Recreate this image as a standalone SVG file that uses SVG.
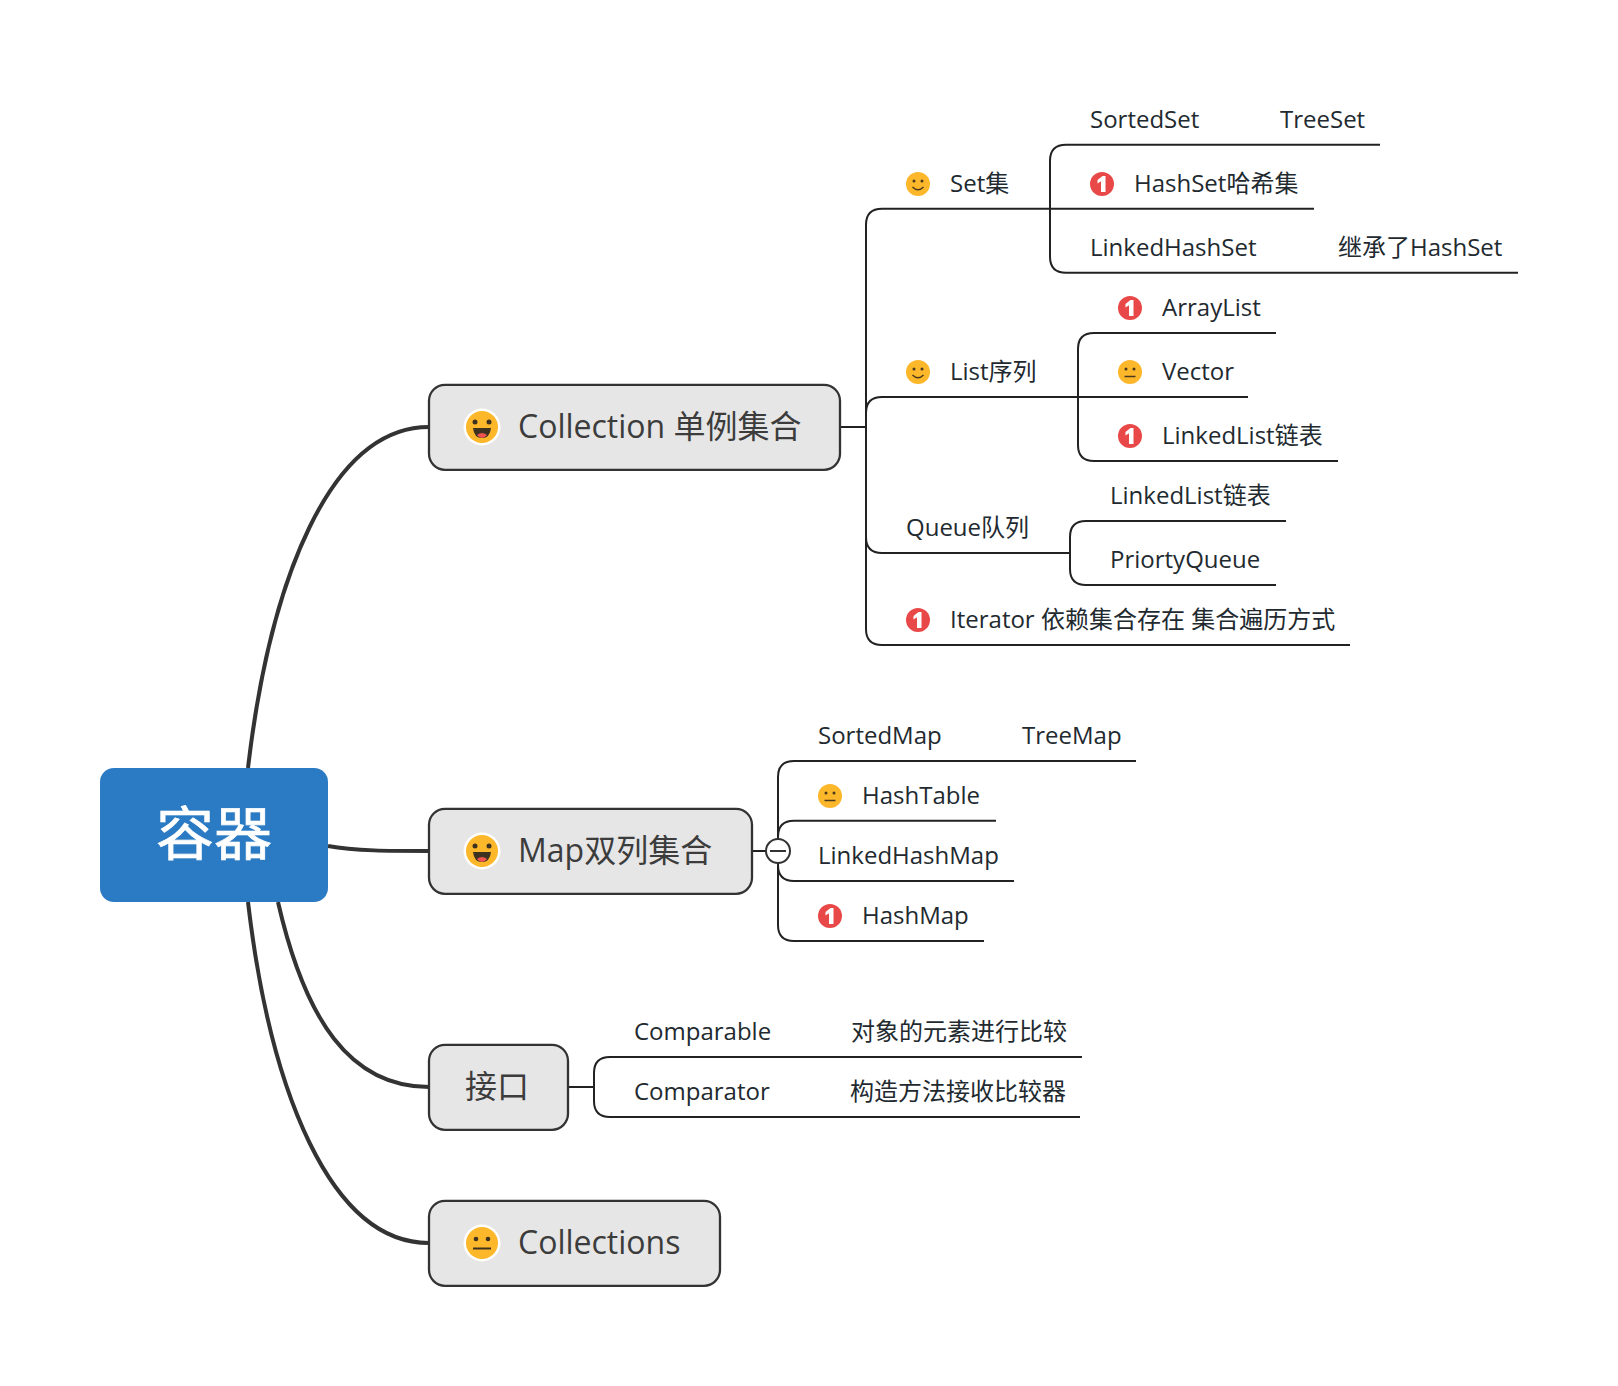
<svg xmlns="http://www.w3.org/2000/svg" xmlns:xlink="http://www.w3.org/1999/xlink" width="1618" height="1386" viewBox="0 0 1618 1386">
<style>
text{font-family:"Open Sans","Noto Sans CJK SC",sans-serif}
.t{font-size:24px;fill:#222a30}
.m{font-size:32px;fill:#3c3c3c}
.r{font-size:58px;fill:#fff;stroke:#fff;stroke-width:0.700;text-anchor:middle}
.box{fill:#e6e6e6;stroke:#333;stroke-width:2.300}
.main{fill:none;stroke:#333;stroke-width:4}
.ln{fill:none;stroke:#222;stroke-width:2}
</style>
<defs>
<g id="smile"><circle r="12" fill="#fdb72b"/><circle cx="-4" cy="-3" r="1.500" fill="#4a3a1a"/><circle cx="4" cy="-3" r="1.500" fill="#4a3a1a"/><path d="M-5.500 3Q0 8.500 5.500 3" fill="none" stroke="#4a3a1a" stroke-width="1.500"/></g>
<g id="neutral"><circle r="12" fill="#fdb72b"/><circle cx="-4" cy="-3" r="1.500" fill="#4a3a1a"/><circle cx="4" cy="-3" r="1.500" fill="#4a3a1a"/><path d="M-5.500 4.500H5.500" fill="none" stroke="#4a3a1a" stroke-width="1.500"/></g>
<g id="one"><circle r="12" fill="#e94848"/><path d="M-4.500 -4L0.500 -8H3.500V8H-1V-2.800L-4.500 -0.500Z" fill="#fff"/></g>
<g id="bigFace"><circle r="18.500" fill="#fff"/><circle r="16" fill="#fdb72b"/><circle cx="-7" cy="-5" r="2.500" fill="#3d3220"/><circle cx="7" cy="-5" r="2.500" fill="#3d3220"/><path d="M-9 1H9Q8 11 0 11Q-8 11 -9 1Z" fill="#3d3220"/><path d="M-5 8Q0 4 5 8Q3 11 0 11Q-3 11 -5 8Z" fill="#ef5350"/></g>
<g id="bigNeutral"><circle r="18.500" fill="#fff"/><circle r="16" fill="#fdb72b"/><circle cx="-6" cy="-4" r="2.300" fill="#3d3220"/><circle cx="6" cy="-4" r="2.300" fill="#3d3220"/><path d="M-9 5.500H9" fill="none" stroke="#3d3220" stroke-width="2"/></g>
</defs>
<rect width="1618" height="1386" fill="#fff"/>
<g id="connectors">
<path class="main" d="M248 768C270 580 330 427 429 427"/>
<path class="main" d="M328 846C355 851 390 851 429 851"/>
<path class="main" d="M278 902C305 1020 350 1087 429 1087"/>
<path class="main" d="M248 902C270 1090 330 1243 429 1243"/>
<path class="ln" d="M840 427H866"/>
<path class="ln" d="M1314 208.700H882Q866 208.700 866 224.700V629Q866 645 882 645H1350"/>
<path class="ln" d="M1248 397H882Q866 397 866 413"/>
<path class="ln" d="M866 537Q866 553 882 553H1070"/>
<path class="ln" d="M1380 144.700H1066Q1050 144.700 1050 160.700V256.700Q1050 272.700 1066 272.700H1518"/>
<path class="ln" d="M1276 333H1094Q1078 333 1078 349V445Q1078 461 1094 461H1338"/>
<path class="ln" d="M1286 521H1086Q1070 521 1070 537V569Q1070 585 1086 585H1276"/>
<path class="ln" d="M752 851H766"/>
<path class="ln" d="M1136 761H794Q778 761 778 777V925Q778 941 794 941H984"/>
<path class="ln" d="M996 820.700H794Q778 820.700 778 836.700V865Q778 881 794 881H1014"/>
<path class="ln" d="M568 1087H594"/>
<path class="ln" d="M1082 1057H610Q594 1057 594 1073V1101Q594 1117 610 1117H1080"/>
</g>
<g id="collapse"><circle cx="778" cy="851" r="12" fill="#fff" stroke="#333" stroke-width="2"/><path d="M770 851H786" stroke="#333" stroke-width="2"/></g>
<g id="root"><rect x="100" y="768" width="228" height="134" rx="14" fill="#2b7bc4"/><text class="r" x="214" y="855">容器</text></g>
<g id="collection"><rect class="box" x="429" y="384.800" width="411" height="85" rx="16"/><use xlink:href="#bigFace" x="482" y="427"/><text class="m" x="518" y="438">Collection 单例集合</text></g>
<g id="map"><rect class="box" x="429" y="808.800" width="323" height="85" rx="16"/><use xlink:href="#bigFace" x="482" y="851"/><text class="m" x="518" y="862">Map双列集合</text></g>
<g id="iface"><rect class="box" x="429" y="1044.800" width="139" height="85" rx="16"/><text class="m" x="465" y="1098">接口</text></g>
<g id="collections"><rect class="box" x="429" y="1200.800" width="291" height="85" rx="16"/><use xlink:href="#bigNeutral" x="482" y="1243"/><text class="m" x="518" y="1254">Collections</text></g>
<g id="set"><use xlink:href="#smile" x="918" y="184"/><text class="t" x="950" y="192">Set集</text></g>
<g id="sortedset"><text class="t" x="1090" y="128">SortedSet</text></g>
<g id="treeset"><text class="t" x="1280" y="128">TreeSet</text></g>
<g id="hashset"><use xlink:href="#one" x="1102" y="184"/><text class="t" x="1134" y="192">HashSet哈希集</text></g>
<g id="linkedhashset"><text class="t" x="1090" y="256">LinkedHashSet</text></g>
<g id="inherit"><text class="t" x="1338" y="256">继承了HashSet</text></g>
<g id="list"><use xlink:href="#smile" x="918" y="372"/><text class="t" x="950" y="380">List序列</text></g>
<g id="arraylist"><use xlink:href="#one" x="1130" y="308"/><text class="t" x="1162" y="316">ArrayList</text></g>
<g id="vector"><use xlink:href="#neutral" x="1130" y="372"/><text class="t" x="1162" y="380">Vector</text></g>
<g id="linkedlist"><use xlink:href="#one" x="1130" y="436"/><text class="t" x="1162" y="444">LinkedList链表</text></g>
<g id="queue"><text class="t" x="906" y="536">Queue队列</text></g>
<g id="linkedlist2"><text class="t" x="1110" y="504">LinkedList链表</text></g>
<g id="priortyqueue"><text class="t" x="1110" y="568">PriortyQueue</text></g>
<g id="iterator"><use xlink:href="#one" x="918" y="620"/><text class="t" x="950" y="628">Iterator 依赖集合存在 集合遍历方式</text></g>
<g id="sortedmap"><text class="t" x="818" y="744">SortedMap</text></g>
<g id="treemap"><text class="t" x="1022" y="744">TreeMap</text></g>
<g id="hashtable"><use xlink:href="#neutral" x="830" y="796"/><text class="t" x="862" y="804">HashTable</text></g>
<g id="linkedhashmap"><text class="t" x="818" y="864">LinkedHashMap</text></g>
<g id="hashmap"><use xlink:href="#one" x="830" y="916"/><text class="t" x="862" y="924">HashMap</text></g>
<g id="comparable"><text class="t" x="634" y="1040">Comparable</text></g>
<g id="compdesc1"><text class="t" x="851" y="1040">对象的元素进行比较</text></g>
<g id="comparator"><text class="t" x="634" y="1100">Comparator</text></g>
<g id="compdesc2"><text class="t" x="850" y="1100">构造方法接收比较器</text></g>
</svg>
